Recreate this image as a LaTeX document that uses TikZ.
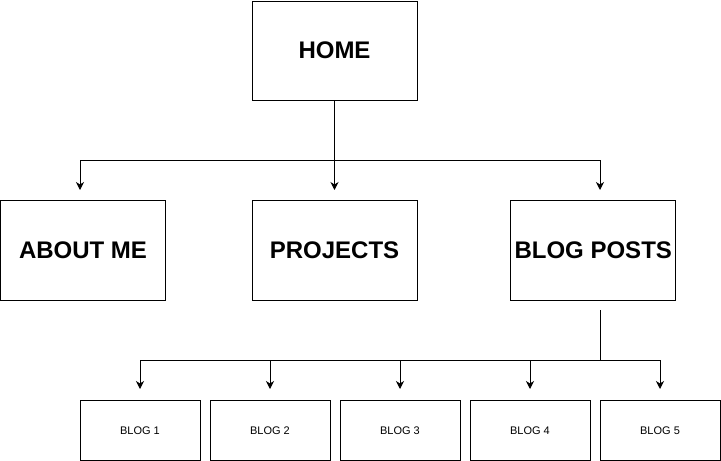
\documentclass[tikz,border=0pt]{standalone}
\usepackage{fontspec}
\setmainfont{Liberation Sans}
\usetikzlibrary{arrows.meta}
\begin{document}
\begin{tikzpicture}[x=1pt,y=-1pt,
  bigbox/.style={draw,line width=1pt,rectangle,inner sep=0pt,minimum width=165pt,minimum height=99.5pt,font=\bfseries\fontsize{24}{28}\selectfont},
  smallbox/.style={draw,line width=1pt,rectangle,inner sep=0pt,minimum width=120pt,minimum height=59.5pt,font=\fontsize{11}{13}\selectfont},
  arr/.style={line width=1pt,-{Stealth[length=8pt,width=8pt,inset=2.5pt]}},
  link/.style={line width=1pt}]
\useasboundingbox (0,0) rectangle (721,461);
\node[bigbox,minimum height=99pt] (home) at (334.5,50.5) {HOME};
\node[bigbox] (about) at (83,250.25) {ABOUT ME};
\node[bigbox] (proj) at (334.5,250.25) {PROJECTS};
\node[bigbox] (posts) at (593.25,250.25) {BLOG POSTS};
\node[smallbox] (b1) at (140,430.25) {BLOG 1};
\node[smallbox] (b2) at (270,430.25) {BLOG 2};
\node[smallbox] (b3) at (400,430.25) {BLOG 3};
\node[smallbox] (b4) at (530,430.25) {BLOG 4};
\node[smallbox] (b5) at (660,430.25) {BLOG 5};
\coordinate (hbus) at (334.5,160);
\coordinate (ain) at (80,190);
\coordinate (pin) at (334.5,190);
\coordinate (bin) at (600,190);
\coordinate (pout) at (600,310);
\coordinate (pbus) at (600,360);
\coordinate (i1) at (140,389);
\coordinate (i2) at (270,389);
\coordinate (i3) at (400,389);
\coordinate (i4) at (530,389);
\coordinate (i5) at (660,389);
\draw[link] (home.south) -- (hbus);
\draw[arr] (hbus) -| (ain);
\draw[arr] (hbus) -- (pin);
\draw[arr] (hbus) -| (bin);
\draw[link] (pout) -- (pbus);
\foreach \i in {1,...,5} \draw[arr] (pbus) -| (i\i);
\end{tikzpicture}
\end{document}
